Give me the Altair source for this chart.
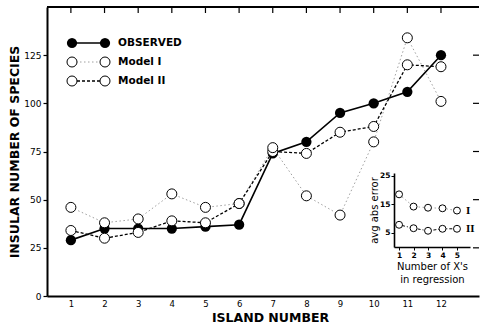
import altair as alt
import pandas as pd

# ---- data ----
islands = list(range(1, 13))
observed = [29, 35, 35, 35, 36, 37, 74, 80, 95, 100, 106, 125]
model_1 = [46, 38, 40, 53, 46, 48, 77, 52, 42, 80, 134, 101]
model_2 = [34, 30, 33, 39, 38, 48, 75, 74, 85, 88, 120, 119]

n_x = [1, 2, 3, 4, 5]
err_1 = [18.5, 14.2, 13.8, 13.6, 12.8]
err_2 = [7.8, 6.6, 5.7, 6.4, 6.4]

x_ticks = list(range(1, 13))
y_ticks = [0, 25, 50, 75, 100, 125]
inset_x_ticks = [1, 2, 3, 4, 5]
inset_y_ticks = [5, 15, 25]

legend_labels = ["OBSERVED", "Model I", "Model II"]
inset_labels = ["I", "II"]

FONT = "DejaVu Sans"
W, H = 432, 289

obs_df = pd.DataFrame({"island": islands, "species": observed})
m1_df = pd.DataFrame({"island": islands, "species": model_1})
m2_df = pd.DataFrame({"island": islands, "species": model_2})
top_df = pd.DataFrame({"island": x_ticks})
right_df = pd.DataFrame({"species": y_ticks[1:]})

x_enc = alt.X(
    "island:Q",
    scale=alt.Scale(domain=[0.29, 13.13], nice=False, zero=False),
    axis=alt.Axis(
        values=x_ticks, title="ISLAND NUMBER", grid=False, ticks=False,
        labelFont=FONT, labelFontSize=8.5, labelColor="black", labelPadding=3,
        titleFont=FONT, titleFontSize=12.5, titleFontWeight="bold", titleColor="black",
        titleX=223, titleY=25, titleBaseline="alphabetic",
        domainColor="black", domainWidth=2,
    ),
)
y_enc = alt.Y(
    "species:Q",
    scale=alt.Scale(domain=[0, 150], nice=False),
    axis=alt.Axis(
        values=y_ticks, title="INSULAR NUMBER OF SPECIES", grid=False,
        tickSize=4, tickColor="black", tickWidth=1.2,
        labelFont=FONT, labelFontSize=9, labelColor="black", labelPadding=2,
        titleFont=FONT, titleFontSize=12.5, titleFontWeight="bold", titleColor="black",
        titlePadding=2, domainColor="black", domainWidth=2,
    ),
)

m1_line = alt.Chart(m1_df).mark_line(color="#a0a0a0", strokeWidth=1, strokeDash=[1.5, 2.5]).encode(x=x_enc, y=y_enc)
m2_line = alt.Chart(m2_df).mark_line(color="black", strokeWidth=1.3, strokeDash=[3, 2]).encode(x=x_enc, y=y_enc)
obs_line = alt.Chart(obs_df).mark_line(color="black", strokeWidth=1.6).encode(x=x_enc, y=y_enc)
obs_pts = alt.Chart(obs_df).mark_circle(color="black", size=105, opacity=1).encode(x=x_enc, y=y_enc)
m2_pts = alt.Chart(m2_df).mark_circle(fill="white", stroke="black", strokeWidth=1, size=100, opacity=1).encode(x=x_enc, y=y_enc)
m1_pts = alt.Chart(m1_df).mark_circle(fill="white", stroke="black", strokeWidth=1, size=100, opacity=1).encode(x=x_enc, y=y_enc)

one = pd.DataFrame({"k": [0]})
top_line = alt.Chart(one).mark_rule(color="black", strokeWidth=2).encode(
    x=alt.value(0), x2=alt.value(W), y=alt.value(0))
top_ticks = alt.Chart(top_df).mark_rule(color="black", strokeWidth=1.2).encode(
    x=x_enc, y=alt.value(0), y2=alt.value(6))
right_ticks = alt.Chart(right_df).mark_rule(color="black", strokeWidth=1.2).encode(
    y=y_enc, x=alt.value(W - 6), x2=alt.value(W))

# ---- legend (top left) ----
rows_y = [36, 55, 74]
leg = []
leg.append(alt.Chart(one).mark_rule(color="black", strokeWidth=1.6).encode(
    x=alt.value(25), x2=alt.value(58), y=alt.value(rows_y[0])))
leg.append(alt.Chart(one).mark_rule(color="#a0a0a0", strokeWidth=1, strokeDash=[1.5, 2.5]).encode(
    x=alt.value(25), x2=alt.value(58), y=alt.value(rows_y[1])))
leg.append(alt.Chart(one).mark_rule(color="black", strokeWidth=1.3, strokeDash=[3, 2]).encode(
    x=alt.value(25), x2=alt.value(58), y=alt.value(rows_y[2])))
for xx in (25, 58):
    leg.append(alt.Chart(one).mark_circle(color="black", size=105, opacity=1).encode(
        x=alt.value(xx), y=alt.value(rows_y[0])))
    for ry in rows_y[1:]:
        leg.append(alt.Chart(one).mark_circle(fill="white", stroke="black", strokeWidth=1, size=100, opacity=1).encode(
            x=alt.value(xx), y=alt.value(ry)))
for lab, ry in zip(legend_labels, rows_y):
    leg.append(alt.Chart(one).mark_text(
        text=lab, align="left", baseline="middle", font=FONT, fontSize=10.5,
        fontWeight="bold", color="black").encode(x=alt.value(71), y=alt.value(ry)))

main = alt.layer(m1_line, m2_line, obs_line, obs_pts, m2_pts, m1_pts,
                 top_line, top_ticks, right_ticks, *leg)

# ---- inset ----
i1_df = pd.DataFrame({"nx": n_x, "err": err_1})
i2_df = pd.DataFrame({"nx": n_x, "err": err_2})
ilab_df = pd.DataFrame({"nx": [5.62, 5.62], "err": [err_1[-1], err_2[-1]], "lab": inset_labels})

ix_enc = alt.X(
    "nx:Q",
    scale=alt.Scale(domain=[0.65, 5.9], range=[347, 423], nice=False, zero=False),
    axis=alt.Axis(
        orient="bottom", offset=-49, values=inset_x_ticks,
        title=["Number of X's", "in regression"], grid=False,
        tickSize=3, tickColor="black", labelFont=FONT, labelFontSize=7.5,
        labelFontWeight="bold", labelColor="black", labelPadding=1,
        titleFont=FONT, titleFontSize=10, titleFontWeight="normal", titleColor="black",
        titlePadding=3, titleLineHeight=13, domainColor="black", domainWidth=1.6,
    ),
)
iy_enc = alt.Y(
    "err:Q",
    scale=alt.Scale(domain=[0, 26], range=[240, 166], nice=False),
    axis=alt.Axis(
        orient="left", offset=-347, values=inset_y_ticks, title="avg abs error",
        grid=False, tickSize=3, tickColor="black", labelFont=FONT, labelFontSize=7.5,
        labelFontWeight="bold", labelColor="black", labelPadding=1,
        titleFont=FONT, titleFontSize=10, titleFontWeight="normal", titleColor="black",
        titlePadding=0, domainColor="black", domainWidth=1.6,
    ),
)

i1_line = alt.Chart(i1_df).mark_line(color="#a0a0a0", strokeWidth=1, strokeDash=[1.5, 2.5]).encode(x=ix_enc, y=iy_enc)
i2_line = alt.Chart(i2_df).mark_line(color="black", strokeWidth=1, strokeDash=[1, 2, 3, 2]).encode(x=ix_enc, y=iy_enc)
i1_pts = alt.Chart(i1_df).mark_circle(fill="white", stroke="black", strokeWidth=1, size=48, opacity=1).encode(x=ix_enc, y=iy_enc)
i2_pts = alt.Chart(i2_df).mark_circle(fill="white", stroke="black", strokeWidth=1, size=48, opacity=1).encode(x=ix_enc, y=iy_enc)
i_text = alt.Chart(ilab_df).mark_text(
    align="left", baseline="middle", font="Liberation Serif", fontSize=11,
    fontWeight="bold", color="black").encode(x=ix_enc, y=iy_enc, text="lab:N")

inset = alt.layer(i1_line, i2_line, i1_pts, i2_pts, i_text)

chart = alt.layer(main, inset).resolve_scale(x="independent", y="independent").properties(
    width=W, height=H,
    padding={"left": 47, "top": 7, "right": 1, "bottom": 27},
    autosize=alt.AutoSizeParams(type="none"),
    background="white",
).configure_view(stroke=None)

chart.save("out.html", embed_options={"renderer": "svg", "actions": False})
